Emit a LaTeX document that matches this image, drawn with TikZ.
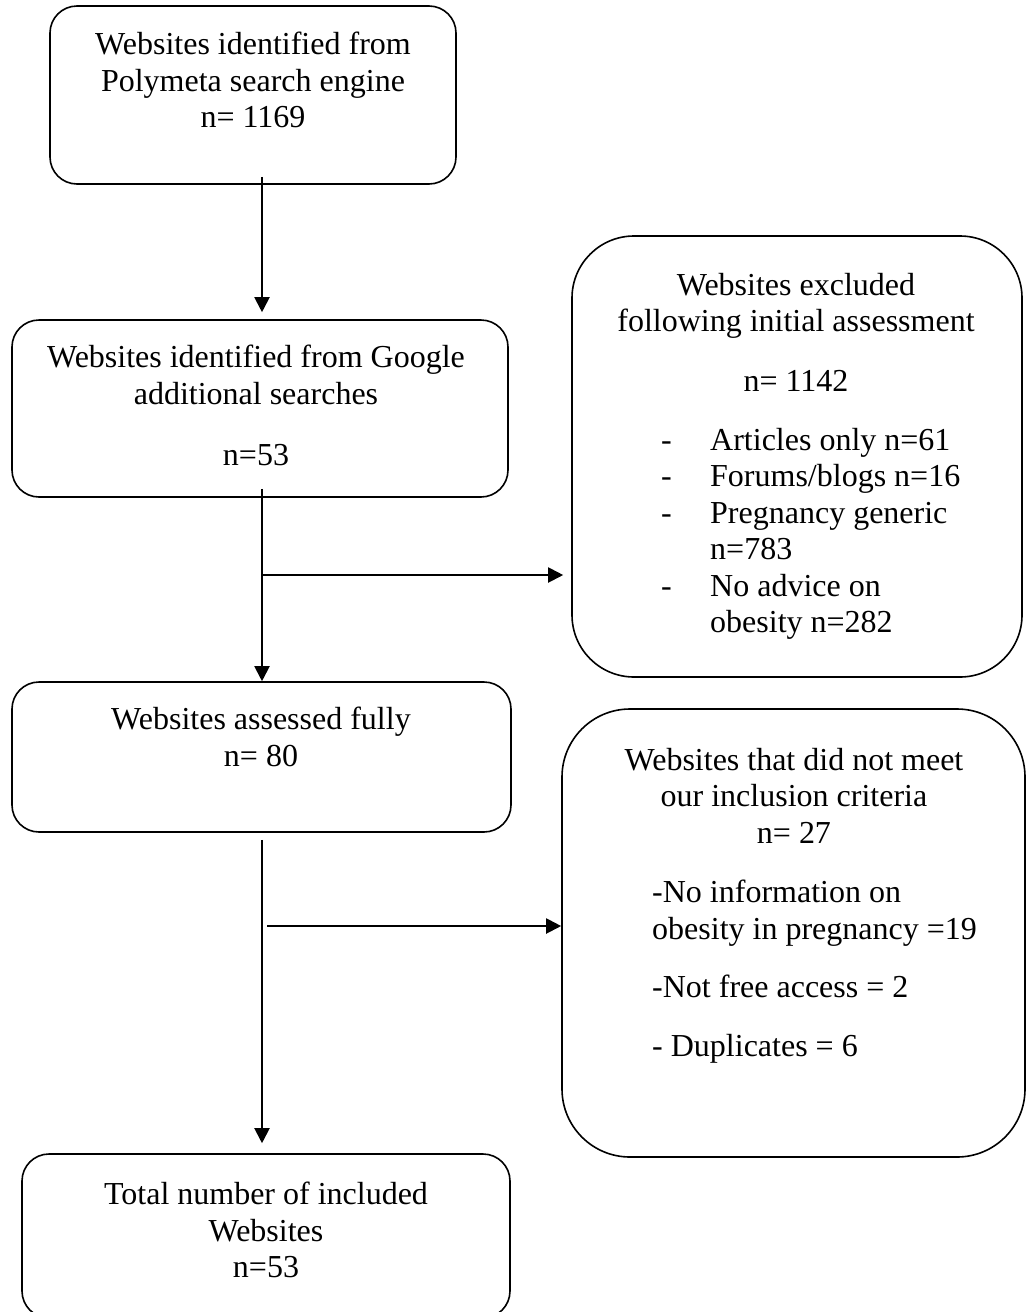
\documentclass[tikz,border=0pt]{standalone}
\usepackage{fontspec}
\setmainfont{Liberation Serif}
\usepackage{tikz}
\usetikzlibrary{arrows.meta}
\newcommand{\dashitem}{\makebox[49pt][l]{-}}

\begin{document}
\begin{tikzpicture}[
  x=1pt, y=-1pt,
  >={Triangle[length=15pt, width=15pt]},
  font=\fontsize{32}{36.5}\selectfont,
  box/.style={draw, line width=1.6pt, rounded corners=27pt, inner sep=0pt},
  bigbox/.style={box, rounded corners=62pt},
  txt/.style={align=center, inner sep=0pt, anchor=north},
  lst/.style={align=left, inner sep=0pt, anchor=north west},
  arr/.style={->, line width=2pt}
]
\useasboundingbox (0,0) rectangle (1027,1312);
\clip (0,0) rectangle (1027,1312);
\node[box, minimum width=406pt, minimum height=178pt] (poly) at (253,95) {};
\node[txt] (polytxt) at (253,32) {Websites identified from\\Polymeta search engine\\n= 1169};
\node[box, minimum width=496pt, minimum height=177pt] (google) at (260,408.5) {};
\node[txt] (googletxt) at (256,345) {Websites identified from Google\\additional searches\\[24.5pt]n=53};
\node[bigbox, minimum width=450pt, minimum height=441pt] (excl) at (797,456.5) {};
\node[txt] (excltxt) at (796,273) {Websites excluded\\following initial assessment\\[23.5pt]n= 1142};
\node[lst] (excllist) at (661,428) {\dashitem Articles only n=61\\
                                    \dashitem Forums/blogs n=16\\
                                    \dashitem Pregnancy generic\\
                                    \hspace*{49pt}n=783\\
                                    \dashitem No advice on\\
                                    \hspace*{49pt}obesity n=282};
\node[box, minimum width=499pt, minimum height=150pt] (full) at (261.5,757) {};
\node[txt] (fulltxt) at (261,707) {Websites assessed fully\\n= 80};
\node[bigbox, rounded corners=68pt, minimum width=463pt, minimum height=448pt] (notmet) at (793.5,933) {};
\node[txt] (notmettxt) at (794,748) {Websites that did not meet\\our inclusion criteria\\n= 27};
\node[lst] (notmetlist) at (652,880) {-No information on\\obesity in pregnancy =19\\[21.5pt]
                                      -Not free access = 2\\[22.5pt]
                                      - Duplicates = 6};
\node[box, minimum width=488pt, minimum height=164pt] (incl) at (266,1236) {};
\node[txt] (incltxt) at (266,1182) {Total number of included\\Websites\\n=53};
\coordinate (spine) at (262,0);
\coordinate (j1) at (262,575);
\coordinate (j2) at (267,926);
\draw[arr, shorten <=-8pt, shorten >=7pt] (spine |- poly.south) -- (spine |- google.north);
\draw[arr, shorten <=-9pt] (spine |- google.south) -- (spine |- full.north);
\draw[arr, shorten <=7pt, shorten >=10pt] (spine |- full.south) -- (spine |- incl.north);
\draw[arr, shorten >=8pt] (j1) -- (j1 -| excl.west);
\draw[arr] (j2) -- (j2 -| notmet.west);
\end{tikzpicture}
\end{document}
